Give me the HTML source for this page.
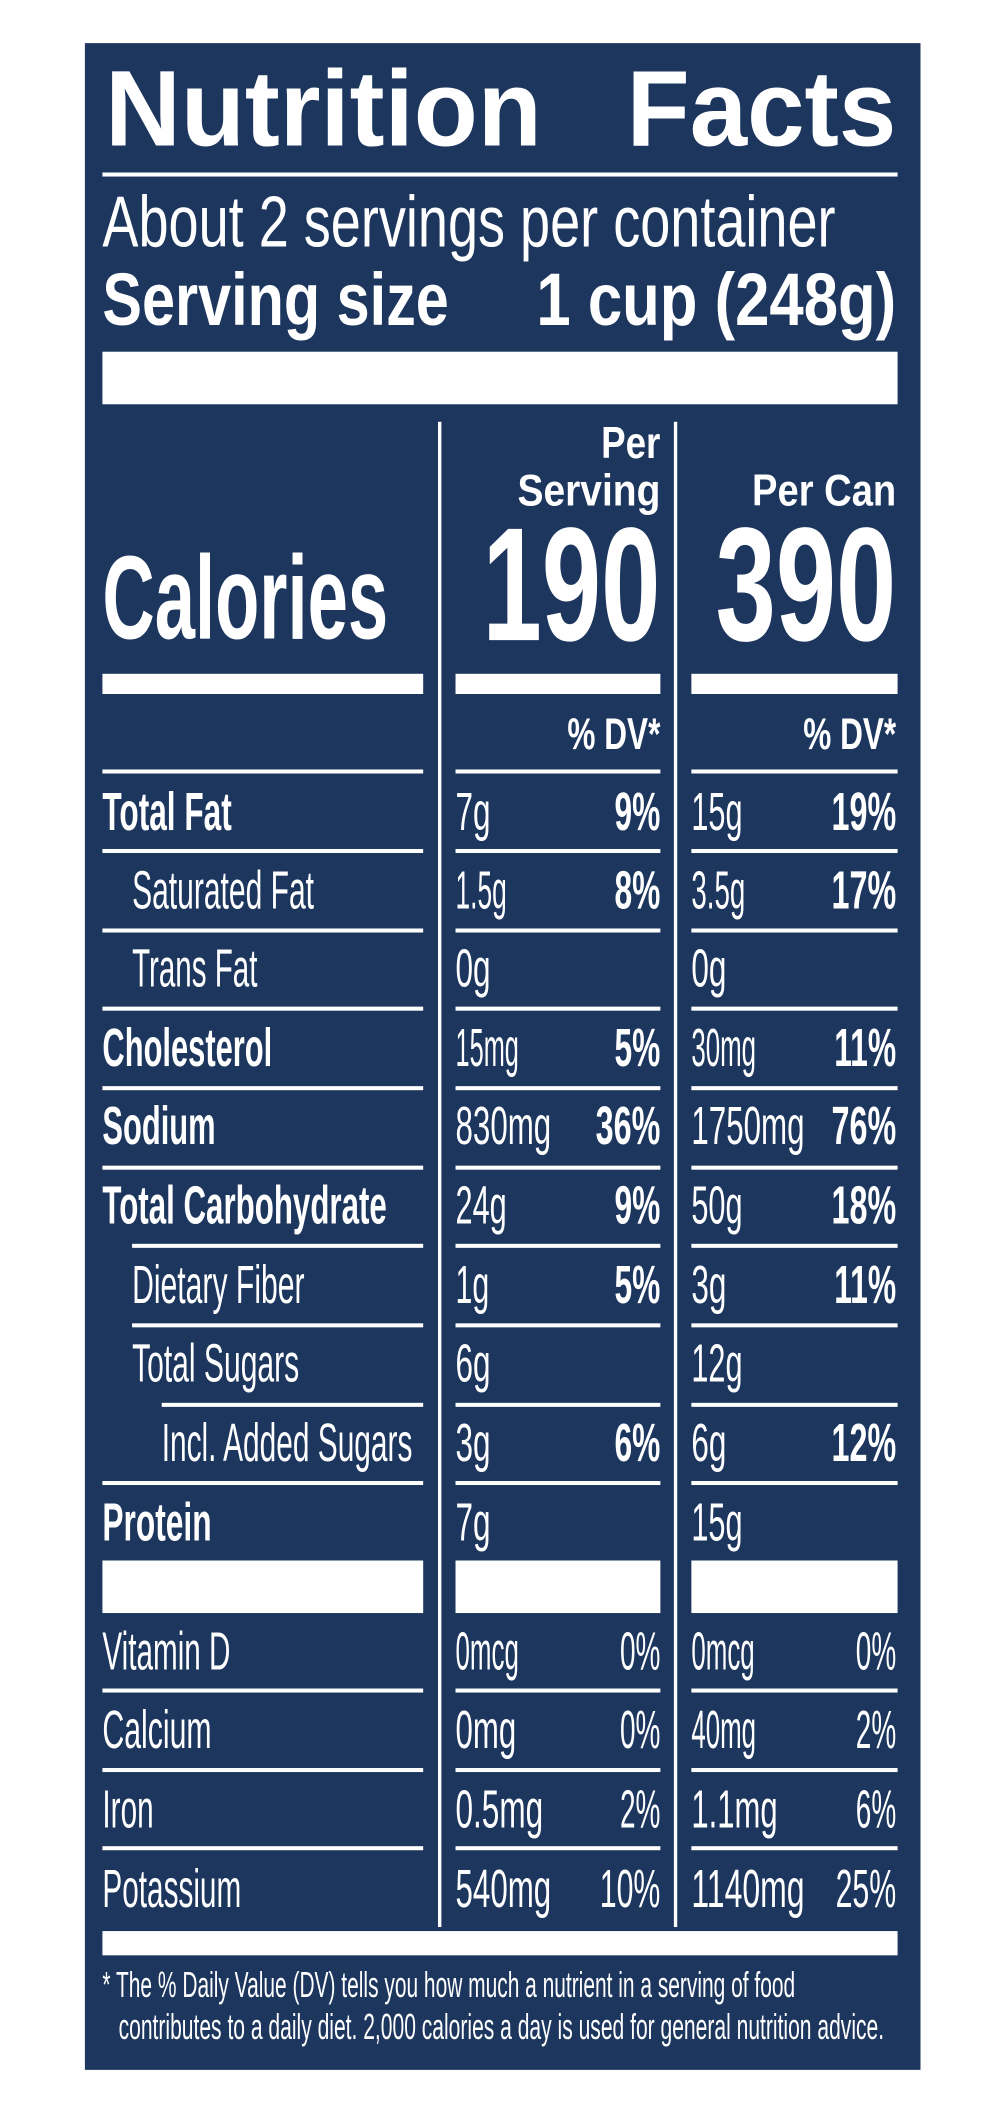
<!DOCTYPE html>
<html><head><meta charset="utf-8"><style>
html,body{margin:0;padding:0;background:#fff;}
svg{display:block;}
text{font-family:"Liberation Sans",sans-serif;fill:#fff;}
.b{font-weight:bold;}
</style></head><body>
<svg width="1000" height="2113" viewBox="0 0 742 1568" preserveAspectRatio="none">
<rect x="63" y="32" width="620" height="1504" fill="#1c365e"/>
<text x="78" y="108" font-size="80" class="b" textLength="324" lengthAdjust="spacingAndGlyphs">Nutrition</text>
<text x="465" y="108" font-size="80" class="b" textLength="200" lengthAdjust="spacingAndGlyphs">Facts</text>
<rect x="76" y="128" width="590" height="3" fill="#fff"/>
<text x="76" y="183" font-size="54" textLength="544" lengthAdjust="spacingAndGlyphs">About 2 servings per container</text>
<text x="76" y="241" font-size="55" class="b" textLength="257" lengthAdjust="spacingAndGlyphs">Serving size</text>
<text x="398" y="241" font-size="55" class="b" textLength="267" lengthAdjust="spacingAndGlyphs">1 cup (248g)</text>
<rect x="76" y="261" width="590" height="39" fill="#fff"/>
<rect x="325" y="313" width="2.5" height="1117" fill="#fff"/>
<rect x="500" y="313" width="2.5" height="1117" fill="#fff"/>
<text x="490" y="340" font-size="33" class="b" text-anchor="end" textLength="44" lengthAdjust="spacingAndGlyphs">Per</text>
<text x="490" y="375" font-size="33" class="b" text-anchor="end" textLength="106" lengthAdjust="spacingAndGlyphs">Serving</text>
<text x="665" y="375" font-size="33" class="b" text-anchor="end" textLength="107" lengthAdjust="spacingAndGlyphs">Per Can</text>
<text x="76" y="474" font-size="88" class="b" textLength="212" lengthAdjust="spacingAndGlyphs">Calories</text>
<text x="358" y="475" font-size="120" class="b" textLength="132" lengthAdjust="spacingAndGlyphs">190</text>
<text x="531" y="475" font-size="120" class="b" textLength="134" lengthAdjust="spacingAndGlyphs">390</text>
<rect x="76" y="500" width="238" height="15" fill="#fff"/>
<rect x="338" y="500" width="152" height="15" fill="#fff"/>
<rect x="513" y="500" width="153" height="15" fill="#fff"/>
<text x="490" y="556" font-size="33" class="b" text-anchor="end" textLength="69" lengthAdjust="spacingAndGlyphs">% DV*</text>
<text x="665" y="556" font-size="33" class="b" text-anchor="end" textLength="69" lengthAdjust="spacingAndGlyphs">% DV*</text>
<g fill="#fff">
<rect x="338" y="571" width="152" height="3"/><rect x="513" y="571" width="153" height="3"/><rect x="76" y="571" width="238" height="3"/>
<rect x="76" y="630" width="238" height="3"/><rect x="338" y="630" width="152" height="3"/><rect x="513" y="630" width="153" height="3"/>
<rect x="76" y="689" width="238" height="3"/><rect x="338" y="689" width="152" height="3"/><rect x="513" y="689" width="153" height="3"/>
<rect x="76" y="747" width="238" height="3"/><rect x="338" y="747" width="152" height="3"/><rect x="513" y="747" width="153" height="3"/>
<rect x="76" y="806" width="238" height="3"/><rect x="338" y="806" width="152" height="3"/><rect x="513" y="806" width="153" height="3"/>
<rect x="76" y="865" width="238" height="3"/><rect x="338" y="865" width="152" height="3"/><rect x="513" y="865" width="153" height="3"/>
<rect x="98" y="923" width="216" height="3"/><rect x="338" y="923" width="152" height="3"/><rect x="513" y="923" width="153" height="3"/>
<rect x="98" y="982" width="216" height="3"/><rect x="338" y="982" width="152" height="3"/><rect x="513" y="982" width="153" height="3"/>
<rect x="120" y="1041" width="194" height="3"/><rect x="338" y="1041" width="152" height="3"/><rect x="513" y="1041" width="153" height="3"/>
<rect x="76" y="1099" width="238" height="3"/><rect x="338" y="1099" width="152" height="3"/><rect x="513" y="1099" width="153" height="3"/>
<rect x="76" y="1158" width="238" height="39"/><rect x="338" y="1158" width="152" height="39"/><rect x="513" y="1158" width="153" height="39"/>
<rect x="76" y="1253" width="238" height="3"/><rect x="338" y="1253" width="152" height="3"/><rect x="513" y="1253" width="153" height="3"/>
<rect x="76" y="1312" width="238" height="3"/><rect x="338" y="1312" width="152" height="3"/><rect x="513" y="1312" width="153" height="3"/>
<rect x="76" y="1370" width="238" height="3"/><rect x="338" y="1370" width="152" height="3"/><rect x="513" y="1370" width="153" height="3"/>
<rect x="76" y="1433" width="590" height="18"/>
</g>
<g font-size="40">
<text x="76" y="616" class="b" textLength="96" lengthAdjust="spacingAndGlyphs">Total Fat</text>
<text x="338" y="616" textLength="26" lengthAdjust="spacingAndGlyphs">7g</text>
<text x="490" y="616" class="b" text-anchor="end" textLength="34" lengthAdjust="spacingAndGlyphs">9%</text>
<text x="513" y="616" textLength="38" lengthAdjust="spacingAndGlyphs">15g</text>
<text x="665" y="616" class="b" text-anchor="end" textLength="48" lengthAdjust="spacingAndGlyphs">19%</text>

<text x="98" y="674" textLength="135" lengthAdjust="spacingAndGlyphs">Saturated Fat</text>
<text x="338" y="674" textLength="38" lengthAdjust="spacingAndGlyphs">1.5g</text>
<text x="490" y="674" class="b" text-anchor="end" textLength="34" lengthAdjust="spacingAndGlyphs">8%</text>
<text x="513" y="674" textLength="40" lengthAdjust="spacingAndGlyphs">3.5g</text>
<text x="665" y="674" class="b" text-anchor="end" textLength="48" lengthAdjust="spacingAndGlyphs">17%</text>

<text x="98" y="732" textLength="93" lengthAdjust="spacingAndGlyphs">Trans Fat</text>
<text x="338" y="732" textLength="26" lengthAdjust="spacingAndGlyphs">0g</text>
<text x="513" y="732" textLength="26" lengthAdjust="spacingAndGlyphs">0g</text>

<text x="76" y="791" class="b" textLength="126" lengthAdjust="spacingAndGlyphs">Cholesterol</text>
<text x="338" y="791" textLength="47" lengthAdjust="spacingAndGlyphs">15mg</text>
<text x="490" y="791" class="b" text-anchor="end" textLength="34" lengthAdjust="spacingAndGlyphs">5%</text>
<text x="513" y="791" textLength="48" lengthAdjust="spacingAndGlyphs">30mg</text>
<text x="665" y="791" class="b" text-anchor="end" textLength="46" lengthAdjust="spacingAndGlyphs">11%</text>

<text x="76" y="849" class="b" textLength="84" lengthAdjust="spacingAndGlyphs">Sodium</text>
<text x="338" y="849" textLength="71" lengthAdjust="spacingAndGlyphs">830mg</text>
<text x="490" y="849" class="b" text-anchor="end" textLength="48" lengthAdjust="spacingAndGlyphs">36%</text>
<text x="513" y="849" textLength="84" lengthAdjust="spacingAndGlyphs">1750mg</text>
<text x="665" y="849" class="b" text-anchor="end" textLength="48" lengthAdjust="spacingAndGlyphs">76%</text>

<text x="76" y="908" class="b" textLength="211" lengthAdjust="spacingAndGlyphs">Total Carbohydrate</text>
<text x="338" y="908" textLength="38" lengthAdjust="spacingAndGlyphs">24g</text>
<text x="490" y="908" class="b" text-anchor="end" textLength="34" lengthAdjust="spacingAndGlyphs">9%</text>
<text x="513" y="908" textLength="38" lengthAdjust="spacingAndGlyphs">50g</text>
<text x="665" y="908" class="b" text-anchor="end" textLength="48" lengthAdjust="spacingAndGlyphs">18%</text>

<text x="98" y="967" textLength="128" lengthAdjust="spacingAndGlyphs">Dietary Fiber</text>
<text x="338" y="967" textLength="25" lengthAdjust="spacingAndGlyphs">1g</text>
<text x="490" y="967" class="b" text-anchor="end" textLength="34" lengthAdjust="spacingAndGlyphs">5%</text>
<text x="513" y="967" textLength="26" lengthAdjust="spacingAndGlyphs">3g</text>
<text x="665" y="967" class="b" text-anchor="end" textLength="46" lengthAdjust="spacingAndGlyphs">11%</text>

<text x="98" y="1025" textLength="124" lengthAdjust="spacingAndGlyphs">Total Sugars</text>
<text x="338" y="1025" textLength="26" lengthAdjust="spacingAndGlyphs">6g</text>
<text x="513" y="1025" textLength="38" lengthAdjust="spacingAndGlyphs">12g</text>

<text x="120" y="1084" textLength="186" lengthAdjust="spacingAndGlyphs">Incl. Added Sugars</text>
<text x="338" y="1084" textLength="26" lengthAdjust="spacingAndGlyphs">3g</text>
<text x="490" y="1084" class="b" text-anchor="end" textLength="34" lengthAdjust="spacingAndGlyphs">6%</text>
<text x="513" y="1084" textLength="26" lengthAdjust="spacingAndGlyphs">6g</text>
<text x="665" y="1084" class="b" text-anchor="end" textLength="48" lengthAdjust="spacingAndGlyphs">12%</text>

<text x="76" y="1143" class="b" textLength="81" lengthAdjust="spacingAndGlyphs">Protein</text>
<text x="338" y="1143" textLength="26" lengthAdjust="spacingAndGlyphs">7g</text>
<text x="513" y="1143" textLength="38" lengthAdjust="spacingAndGlyphs">15g</text>

<text x="76" y="1239" textLength="95" lengthAdjust="spacingAndGlyphs">Vitamin D</text>
<text x="338" y="1239" textLength="47" lengthAdjust="spacingAndGlyphs">0mcg</text>
<text x="490" y="1239" text-anchor="end" textLength="30" lengthAdjust="spacingAndGlyphs">0%</text>
<text x="513" y="1239" textLength="47" lengthAdjust="spacingAndGlyphs">0mcg</text>
<text x="665" y="1239" text-anchor="end" textLength="30" lengthAdjust="spacingAndGlyphs">0%</text>

<text x="76" y="1297" textLength="81" lengthAdjust="spacingAndGlyphs">Calcium</text>
<text x="338" y="1297" textLength="45" lengthAdjust="spacingAndGlyphs">0mg</text>
<text x="490" y="1297" text-anchor="end" textLength="30" lengthAdjust="spacingAndGlyphs">0%</text>
<text x="513" y="1297" textLength="48" lengthAdjust="spacingAndGlyphs">40mg</text>
<text x="665" y="1297" text-anchor="end" textLength="30" lengthAdjust="spacingAndGlyphs">2%</text>

<text x="76" y="1356" textLength="38" lengthAdjust="spacingAndGlyphs">Iron</text>
<text x="338" y="1356" textLength="65" lengthAdjust="spacingAndGlyphs">0.5mg</text>
<text x="490" y="1356" text-anchor="end" textLength="30" lengthAdjust="spacingAndGlyphs">2%</text>
<text x="513" y="1356" textLength="64" lengthAdjust="spacingAndGlyphs">1.1mg</text>
<text x="665" y="1356" text-anchor="end" textLength="30" lengthAdjust="spacingAndGlyphs">6%</text>

<text x="76" y="1415" textLength="103" lengthAdjust="spacingAndGlyphs">Potassium</text>
<text x="338" y="1415" textLength="71" lengthAdjust="spacingAndGlyphs">540mg</text>
<text x="490" y="1415" text-anchor="end" textLength="45" lengthAdjust="spacingAndGlyphs">10%</text>
<text x="513" y="1415" textLength="84" lengthAdjust="spacingAndGlyphs">1140mg</text>
<text x="665" y="1415" text-anchor="end" textLength="45" lengthAdjust="spacingAndGlyphs">25%</text>
</g>
<text x="76" y="1482" font-size="27" textLength="514" lengthAdjust="spacingAndGlyphs">* The % Daily Value (DV) tells you how much a nutrient in a serving of food</text>
<text x="88" y="1513" font-size="27" textLength="568" lengthAdjust="spacingAndGlyphs">contributes to a daily diet. 2,000 calories a day is used for general nutrition advice.</text>
</svg>
</body></html>
